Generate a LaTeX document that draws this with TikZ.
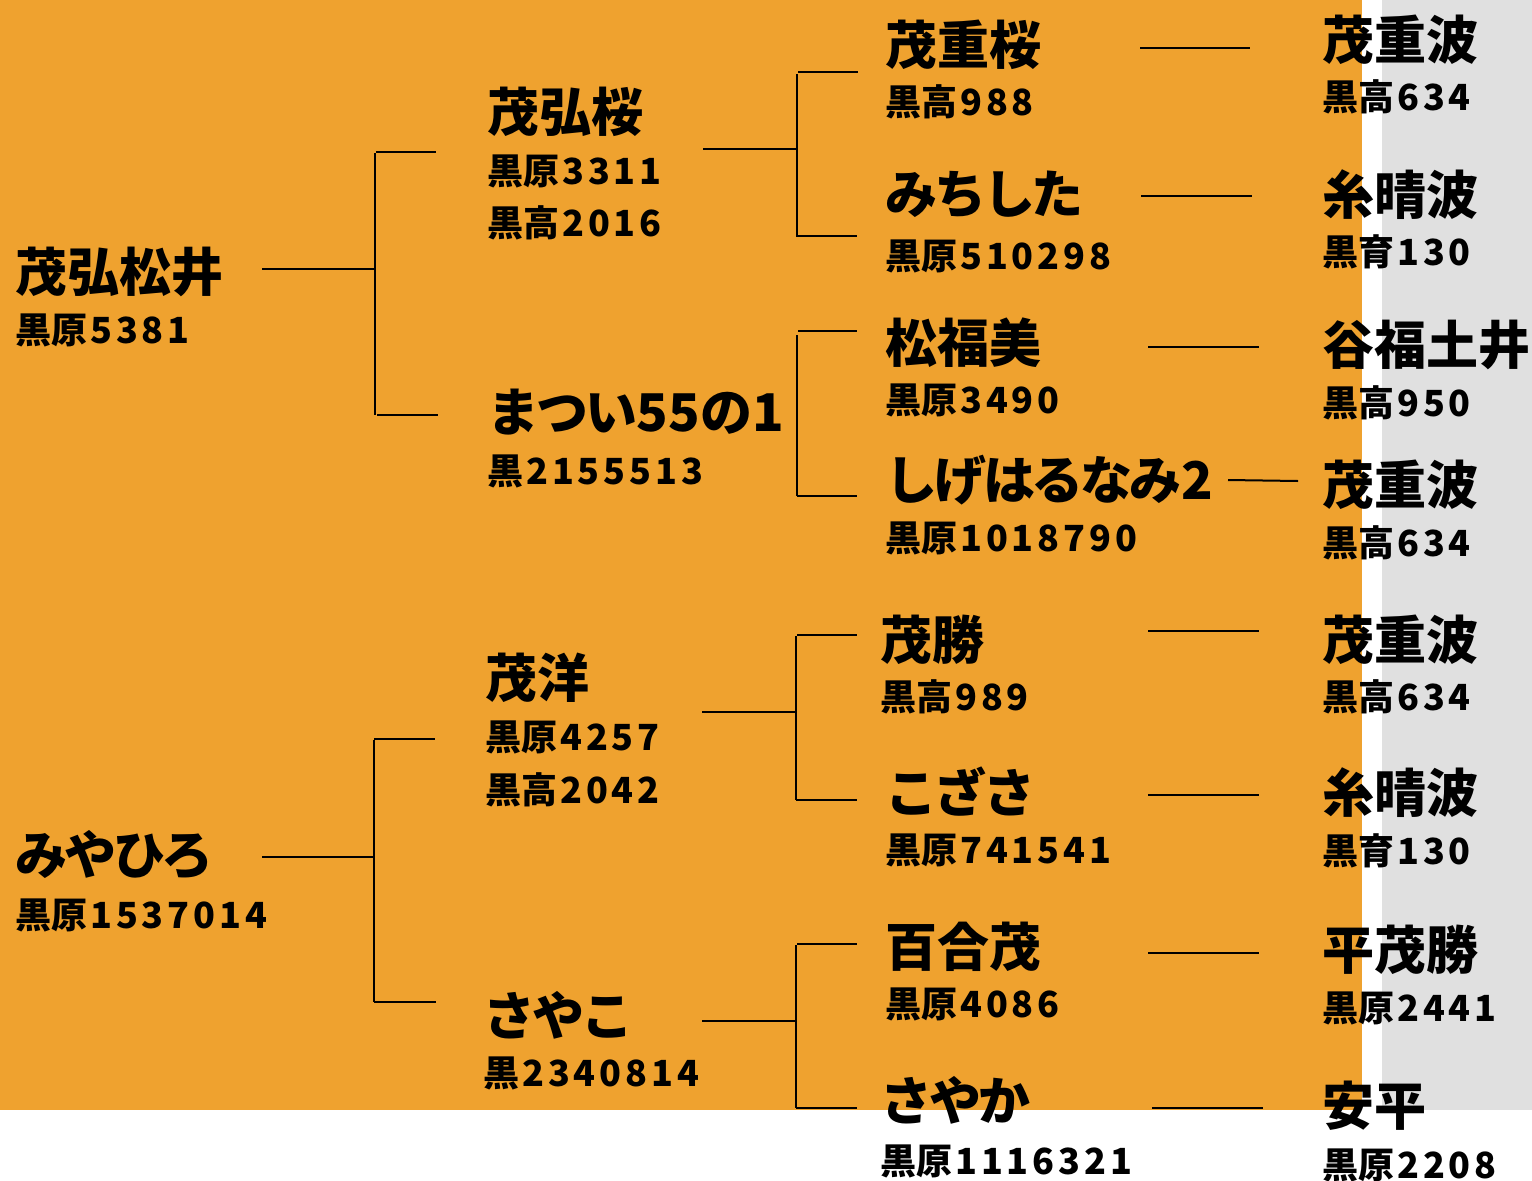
\documentclass[tikz,border=0pt]{standalone}
\usepackage{fontspec}
\setmainfont{Noto Sans CJK JP}
\newfontfamily\numfont{Noto Sans CJK JP}[LetterSpace=11]
\newfontfamily\kanafont{Noto Sans CJK JP}[LetterSpace=-6]
\newcommand{\dg}[1]{\hspace{3pt}{\numfont\bfseries #1}}
\newcommand{\kn}[1]{{\kanafont\bfseries #1}}
\definecolor{bgorange}{HTML}{EFA22F}
\definecolor{bggray}{HTML}{E0E0E0}
\tikzset{
  nm/.style={anchor=west, inner sep=0pt, font=\fontsize{52}{52}\selectfont\bfseries},
  num/.style={anchor=west, inner sep=0pt, font=\fontsize{36}{36}\selectfont\bfseries},
  ln/.style={line width=2pt, black}
}
\begin{document}
\begin{tikzpicture}[x=1pt,y=-1pt]
\useasboundingbox (0,0) rectangle (1532,1181);
\fill[bgorange] (0,0) rectangle (1362,1110);
\fill[bggray] (1382,0) rectangle (1532,1110);
% generation 1
\node[nm] (g1a) at (15,272) {茂弘松井};
\node[num] (g1an) at (15,330) {黒原\dg{5381}};
\node[nm] (g1b) at (15,855) {\kn{みやひろ}};
\node[num] (g1bn) at (15,915) {黒原\dg{1537014}};
% generation 2
\node[nm] (g2a) at (487,112) {茂弘桜};
\node[num] (g2an) at (487,171) {黒原\dg{3311}};
\node[num] (g2an2) at (487,223) {黒高\dg{2016}};
\node[nm] (g2b) at (487,412) {\kn{まつい}55の1};
\node[num] (g2bn) at (487,471) {黒\dg{2155513}};
\node[nm] (g2c) at (485,678) {茂洋};
\node[num] (g2cn) at (485,737) {黒原\dg{4257}};
\node[num] (g2cn2) at (485,790) {黒高\dg{2042}};
\node[nm] (g2d) at (483,1015) {\kn{さやこ}};
\node[num] (g2dn) at (483,1073) {黒\dg{2340814}};
% generation 3
\node[nm] (g3a) at (885,45) {茂重桜};
\node[num] (g3an) at (885,102) {黒高\dg{988}};
\node[nm] (g3b) at (885,195) {\kn{みちした}};
\node[num] (g3bn) at (885,256) {黒原\dg{510298}};
\node[nm] (g3c) at (885,343) {松福美};
\node[num] (g3cn) at (885,400) {黒原\dg{3490}};
\node[nm] (g3d) at (885,480) {\kn{しげはるなみ}2};
\node[num] (g3dn) at (885,538) {黒原\dg{1018790}};
\node[nm] (g3e) at (880,640) {茂勝};
\node[num] (g3en) at (880,697) {黒高\dg{989}};
\node[nm] (g3f) at (885,792) {\kn{こざさ}};
\node[num] (g3fn) at (885,850) {黒原\dg{741541}};
\node[nm] (g3g) at (885,947) {百合茂};
\node[num] (g3gn) at (885,1004) {黒原\dg{4086}};
\node[nm] (g3h) at (880,1100) {\kn{さやか}};
\node[num] (g3hn) at (880,1161) {黒原\dg{1116321}};
% generation 4
\node[nm] (g4a) at (1322,40) {茂重波};
\node[num] (g4an) at (1322,97) {黒高\dg{634}};
\node[nm] (g4b) at (1322,195) {糸晴波};
\node[num] (g4bn) at (1322,252) {黒育\dg{130}};
\node[nm] (g4c) at (1322,345) {谷福土井};
\node[num] (g4cn) at (1322,403) {黒高\dg{950}};
\node[nm] (g4d) at (1322,485) {茂重波};
\node[num] (g4dn) at (1322,543) {黒高\dg{634}};
\node[nm] (g4e) at (1322,640) {茂重波};
\node[num] (g4en) at (1322,697) {黒高\dg{634}};
\node[nm] (g4f) at (1322,793) {糸晴波};
\node[num] (g4fn) at (1322,851) {黒育\dg{130}};
\node[nm] (g4g) at (1322,950) {平茂勝};
\node[num] (g4gn) at (1322,1008) {黒原\dg{2441}};
\node[nm] (g4h) at (1322,1106) {安平};
\node[num] (g4hn) at (1322,1165) {黒原\dg{2208}};
% bracket coordinates
\coordinate (A0) at (262,269); \coordinate (A1) at (375,269);
\coordinate (At) at (375,153); \coordinate (Ab) at (375,415);
\coordinate (Ats) at (376,152); \coordinate (Ate) at (436,152);
\coordinate (Abs) at (377,415); \coordinate (Abe) at (438,415);
\coordinate (B0) at (262,857); \coordinate (B1) at (374,857);
\coordinate (Bt) at (374,740); \coordinate (Bb) at (374,1002);
\coordinate (Bts) at (374,739); \coordinate (Bte) at (435,739);
\coordinate (Bbe) at (436,1002);
\coordinate (C0) at (703,149); \coordinate (C1) at (797,149);
\coordinate (Ct) at (797,74); \coordinate (Cb) at (797,237);
\coordinate (Cts) at (798,72); \coordinate (Cte) at (858,72);
\coordinate (Cbs) at (798,236); \coordinate (Cbe) at (857,236);
\coordinate (Dt) at (797,335); \coordinate (Db) at (797,496);
\coordinate (Dts) at (798,331); \coordinate (Dte) at (857,331);
\coordinate (Dbe) at (857,496);
\coordinate (E0) at (702,712); \coordinate (E1) at (796,712);
\coordinate (Et) at (796,636); \coordinate (Eb) at (796,800);
\coordinate (Ets) at (797,635); \coordinate (Ete) at (857,635);
\coordinate (Ebe) at (857,800);
\coordinate (F0) at (702,1021); \coordinate (F1) at (796,1021);
\coordinate (Ft) at (796,945); \coordinate (Fb) at (796,1108);
\coordinate (Fts) at (797,944); \coordinate (Fte) at (857,944);
\coordinate (Fbe) at (857,1108);
\draw[ln] (A0) -- (A1); \draw[ln] (At) -- (Ab);
\draw[ln] (Ats) -- (Ate); \draw[ln] (Abs) -- (Abe);
\draw[ln] (B0) -- (B1); \draw[ln] (Bt) -- (Bb);
\draw[ln] (Bts) -- (Bte); \draw[ln] (Bb) -- (Bbe);
\draw[ln] (C0) -- (C1); \draw[ln] (Ct) -- (Cb);
\draw[ln] (Cts) -- (Cte); \draw[ln] (Cbs) -- (Cbe);
\draw[ln] (Dt) -- (Db);
\draw[ln] (Dts) -- (Dte); \draw[ln] (Db) -- (Dbe);
\draw[ln] (E0) -- (E1); \draw[ln] (Et) -- (Eb);
\draw[ln] (Ets) -- (Ete); \draw[ln] (Eb) -- (Ebe);
\draw[ln] (F0) -- (F1); \draw[ln] (Ft) -- (Fb);
\draw[ln] (Fts) -- (Fte); \draw[ln] (Fb) -- (Fbe);
% generation 3 to 4 connectors
\coordinate (Ha0) at (1140,48);  \coordinate (Ha1) at (1250,48);
\coordinate (Hb0) at (1141,196); \coordinate (Hb1) at (1252,196);
\coordinate (Hc0) at (1148,347); \coordinate (Hc1) at (1259,347);
\coordinate (Hd0) at (1228,480); \coordinate (Hd1) at (1298,481);
\coordinate (He0) at (1148,631); \coordinate (He1) at (1259,631);
\coordinate (Hf0) at (1148,795); \coordinate (Hf1) at (1259,795);
\coordinate (Hg0) at (1148,953); \coordinate (Hg1) at (1259,953);
\coordinate (Hh0) at (1152,1108); \coordinate (Hh1) at (1263,1108);
\foreach \k in {a,b,c,d,e,f,g,h} {\draw[ln] (H\k0) -- (H\k1);}
\end{tikzpicture}
\end{document}
